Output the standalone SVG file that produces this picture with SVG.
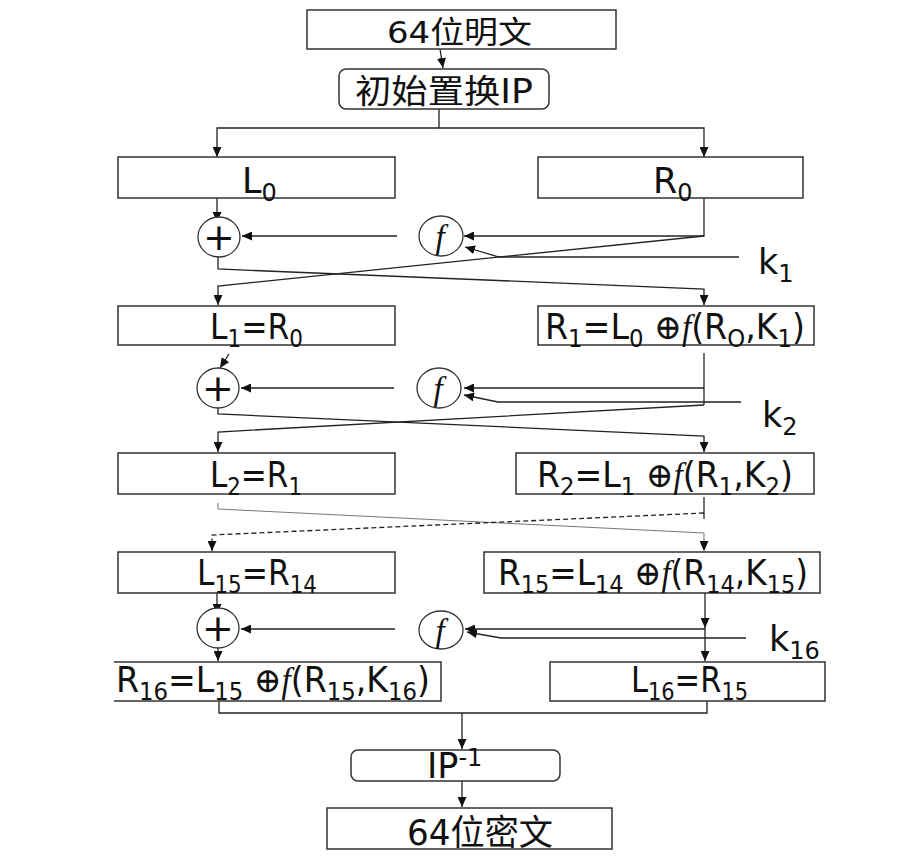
<svg xmlns="http://www.w3.org/2000/svg" width="922" height="860" viewBox="0 0 922 860">
<style>
.box{fill:#fff;stroke:#333;stroke-width:1.5}
.ln{fill:none;stroke:#222;stroke-width:1.3}
.ar{marker-end:url(#ah)}
.t{font-family:"DejaVu Sans","Noto Sans CJK SC",sans-serif;font-size:35px;fill:#111}
.sb{font-size:24px}
.fi{font-family:"Liberation Serif",serif;font-style:italic}
.xo{font-family:"DejaVu Serif","DejaVu Sans",serif;font-weight:normal}
.op{fill:#fff;stroke:#333;stroke-width:1.3}
.pl{font-family:"DejaVu Sans",sans-serif;font-size:38px;fill:#111;text-anchor:middle}
.fc{font-family:"Liberation Serif",serif;font-style:italic;font-size:33px;fill:#111;text-anchor:middle}
</style>
<defs>
<marker id="ah" markerWidth="10" markerHeight="9" refX="10" refY="4.5" orient="auto" markerUnits="userSpaceOnUse"><path d="M0,0 L10,4.5 L0,9 z" fill="#111"/></marker>
</defs>
<rect width="922" height="860" fill="#fff"/>
<g id="connectors">
<path class="ln ar" d="M440,49 L443,68"/>
<path class="ln ar" d="M439,109 V128 H217 V157"/>
<path class="ln ar" d="M439,128 H704 V157"/>
<path class="ln ar" d="M217,198 V222"/>
<path class="ln ar" d="M397,236 H242"/>
<path class="ln ar" d="M704,198 V236 H464"/>
<path class="ln ar" d="M739,257 H499 L465,247"/>
<path class="ln ar" d="M704,236 L218,286 V305"/>
<path class="ln ar" d="M218,257 V269 L704,289 V305"/>
<path class="ln ar" d="M229,354 L220,368"/>
<path class="ln ar" d="M394,388 H241"/>
<path class="ln" d="M704,353 V405"/>
<path class="ln ar" d="M704,388 H464"/>
<path class="ln ar" d="M704,405 L218,432 V452"/>
<path class="ln ar" d="M741,402 H498 L464,395"/>
<path class="ln ar" d="M218,408 V414 L704,436 V452"/>
<path class="ln ar" d="M218,503 V509 L704,533 V551" style="stroke:#777;stroke-width:1"/>
<path class="ln" d="M704,497 V519"/>
<path class="ln ar" d="M704,513 L212,535 V551" style="stroke-dasharray:5,3"/>
<path class="ln ar" d="M217,588 V614"/>
<path class="ln ar" d="M395,629 H241"/>
<path class="ln ar" d="M705,593 V628"/>
<path class="ln ar" d="M705,628 V661"/>
<path class="ln ar" d="M705,629 H465"/>
<path class="ln ar" d="M746,638 H501 L467,632"/>
<path class="ln ar" d="M218,648 V661"/>
<path class="ln" d="M219,700 V713 H707 V700"/>
<path class="ln ar" d="M462,713 V749"/>
<path class="ln ar" d="M462,781 V807"/>
</g>
<g id="plaintext"><rect class="box" x="307" y="10" width="309" height="39"/><text class="t" x="387" y="43" style="font-size:31px" textLength="145" lengthAdjust="spacingAndGlyphs">64位明文</text></g>
<g id="ip"><rect class="box" x="339" y="69" width="210" height="40" rx="7"/><text class="t" x="355" y="103" style="font-size:33px" textLength="178" lengthAdjust="spacingAndGlyphs">初始置换IP</text></g>
<g id="L0"><rect class="box" x="118" y="157" width="277" height="41"/><text class="t" x="242" y="193">L<tspan class="sb" dy="8">0</tspan></text></g>
<g id="R0"><rect class="box" x="538" y="157" width="265" height="41"/><text class="t" x="653" y="193">R<tspan class="sb" dy="8">0</tspan></text></g>
<g id="xor1"><ellipse class="op" cx="219" cy="237" rx="21" ry="20"/><text class="pl" x="219" y="250">+</text></g>
<g id="f1"><ellipse class="op" cx="441" cy="236" rx="22" ry="20"/><text class="fc" x="440" y="248">f</text></g>
<g id="k1"><text class="t" x="758" y="274">k<tspan class="sb" dy="8">1</tspan></text></g>
<g id="L1"><rect class="box" x="118" y="306" width="277" height="39"/><text class="t" x="210" y="339" textLength="93" lengthAdjust="spacingAndGlyphs">L<tspan class="sb" dy="8">1</tspan><tspan dy="-8">=R</tspan><tspan class="sb" dy="8">0</tspan></text></g>
<g id="R1"><rect class="box" x="538" y="306" width="276" height="39"/><text class="t" x="545" y="339" textLength="260" lengthAdjust="spacingAndGlyphs">R<tspan class="sb" dy="8">1</tspan><tspan dy="-8">=L</tspan><tspan class="sb" dy="8">0</tspan><tspan dy="-8" class="xo"> ⊕</tspan><tspan class="fi">f</tspan>(R<tspan class="sb" dy="8">O</tspan><tspan dy="-8">,K</tspan><tspan class="sb" dy="8">1</tspan><tspan dy="-8">)</tspan></text></g>
<g id="xor2"><ellipse class="op" cx="218" cy="388" rx="21" ry="20"/><text class="pl" x="218" y="401">+</text></g>
<g id="f2"><ellipse class="op" cx="439" cy="388" rx="22" ry="20"/><text class="fc" x="438" y="400">f</text></g>
<g id="k2"><text class="t" x="762" y="427">k<tspan class="sb" dy="8">2</tspan></text></g>
<g id="L2"><rect class="box" x="118" y="453" width="277" height="41"/><text class="t" x="210" y="487" textLength="92" lengthAdjust="spacingAndGlyphs">L<tspan class="sb" dy="8">2</tspan><tspan dy="-8">=R</tspan><tspan class="sb" dy="8">1</tspan></text></g>
<g id="R2"><rect class="box" x="516" y="453" width="298" height="41"/><text class="t" x="537" y="487" textLength="256" lengthAdjust="spacingAndGlyphs">R<tspan class="sb" dy="8">2</tspan><tspan dy="-8">=L</tspan><tspan class="sb" dy="8">1</tspan><tspan dy="-8" class="xo"> ⊕</tspan><tspan class="fi">f</tspan>(R<tspan class="sb" dy="8">1</tspan><tspan dy="-8">,K</tspan><tspan class="sb" dy="8">2</tspan><tspan dy="-8">)</tspan></text></g>
<g id="L15"><rect class="box" x="118" y="552" width="277" height="41"/><text class="t" x="197" y="585" textLength="120" lengthAdjust="spacingAndGlyphs">L<tspan class="sb" dy="8">15</tspan><tspan dy="-8">=R</tspan><tspan class="sb" dy="8">14</tspan></text></g>
<g id="R15"><rect class="box" x="484" y="552" width="336" height="41"/><text class="t" x="498" y="585" textLength="310" lengthAdjust="spacingAndGlyphs">R<tspan class="sb" dy="8">15</tspan><tspan dy="-8">=L</tspan><tspan class="sb" dy="8">14</tspan><tspan dy="-8" class="xo"> ⊕</tspan><tspan class="fi">f</tspan>(R<tspan class="sb" dy="8">14</tspan><tspan dy="-8">,K</tspan><tspan class="sb" dy="8">15</tspan><tspan dy="-8">)</tspan></text></g>
<g id="xor16"><ellipse class="op" cx="218" cy="628" rx="21" ry="20"/><text class="pl" x="218" y="641">+</text></g>
<g id="f16"><ellipse class="op" cx="441" cy="630" rx="22" ry="19"/><text class="fc" x="440" y="642">f</text></g>
<g id="k16"><text class="t" x="769" y="651">k<tspan class="sb" dy="8">16</tspan></text></g>
<g id="R16"><path class="box" d="M114,662 H441 V701 H114"/><text class="t" x="116" y="692" textLength="314" lengthAdjust="spacingAndGlyphs">R<tspan class="sb" dy="8">16</tspan><tspan dy="-8">=L</tspan><tspan class="sb" dy="8">15</tspan><tspan dy="-8" class="xo"> ⊕</tspan><tspan class="fi">f</tspan>(R<tspan class="sb" dy="8">15</tspan><tspan dy="-8">,K</tspan><tspan class="sb" dy="8">16</tspan><tspan dy="-8">)</tspan></text></g>
<g id="L16"><rect class="box" x="550" y="662" width="275" height="39"/><text class="t" x="631" y="692" textLength="117" lengthAdjust="spacingAndGlyphs">L<tspan class="sb" dy="8">16</tspan><tspan dy="-8">=R</tspan><tspan class="sb" dy="8">15</tspan></text></g>
<g id="ipinv"><rect class="box" x="351" y="750" width="209" height="31" rx="7"/><text class="t" x="427" y="778">IP<tspan class="sb" dy="-12">-1</tspan></text></g>
<g id="ciphertext"><rect class="box" x="327" y="808" width="285" height="41"/><text class="t" x="407" y="845" textLength="146" lengthAdjust="spacingAndGlyphs">64位密文</text></g>
</svg>
